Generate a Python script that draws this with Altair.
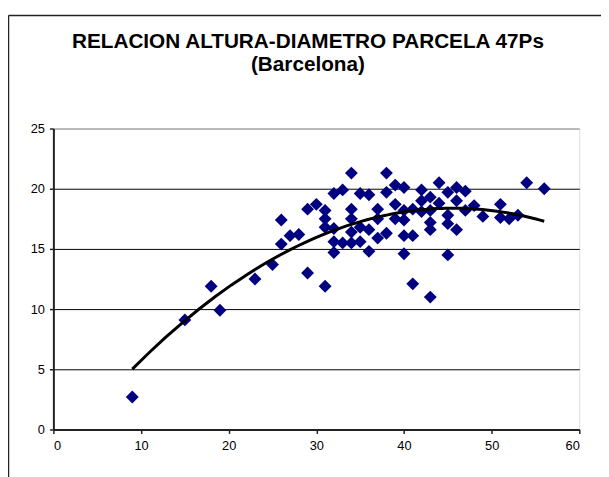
import altair as alt
import pandas as pd

# Diameter (cm) and height (m)
diametro = [9, 15, 18, 19, 23, 25, 26, 26, 27, 28, 29, 29, 30, 31,
            31, 31, 31, 32, 32, 32, 32, 33, 33, 34, 34, 34, 34, 34,
            35, 35, 35, 36, 36, 36, 37, 37, 37, 38, 38, 38, 39, 39,
            39, 40, 40, 40, 40, 40, 41, 41,
            41, 42, 42, 42, 43, 43, 43, 43, 43, 44, 44, 45, 45, 45,
            45, 46, 46, 46, 47, 47, 48, 49, 51, 51, 52, 53, 54, 56]
altura = [2.7, 9.1, 11.9, 9.9, 12.5, 13.7, 15.4, 17.4, 16.1, 16.2, 13.0, 18.3, 18.7, 11.9,
          18.2, 17.5, 16.8, 19.6, 16.7, 15.6, 14.7, 19.9, 15.5, 21.3, 18.3, 17.5, 16.4, 15.5,
          19.6, 16.8, 15.6, 19.5, 16.6, 14.8, 18.3, 17.5, 15.9, 21.3, 19.7, 16.3, 20.3, 18.7,
          17.5, 20.1, 18.2, 17.4, 16.1, 14.6, 16.1, 12.1,
          18.3, 19.9, 19.0, 18.1, 19.3, 18.2, 17.2, 16.6, 11.0, 20.5, 18.8, 19.7, 17.8, 17.1,
          14.5, 20.1, 19.0, 16.6, 19.8, 18.2, 18.6, 17.7, 18.7, 17.6, 17.5, 17.8, 20.5, 20.0]

x_ticks = [0, 10, 20, 30, 40, 50, 60]
y_ticks = [0, 5, 10, 15, 20, 25]

titulo = "RELACION ALTURA-DIAMETRO PARCELA 47Ps"
subtitulo = "(Barcelona)"

df = pd.DataFrame({"D": diametro, "H": altura})

FONT = "Liberation Sans"

xs = alt.Scale(domain=[0, 60], nice=False, zero=False)
ys = alt.Scale(domain=[0, 25], nice=False, zero=False)

base = alt.Chart(df)

points = base.mark_point(shape="diamond", filled=True, size=170, opacity=1,
                         color="#000080").encode(
    x=alt.X("D:Q", scale=xs, axis=alt.Axis(
        values=x_ticks, grid=False, title=None, labelFont=FONT, labelFontSize=13,
        labelColor="black", tickColor="#222", tickSize=4, tickWidth=1.5,
        domainColor="#222", domainWidth=2, labelPadding=6, labelAngle=0)),
    y=alt.Y("H:Q", scale=ys, axis=alt.Axis(
        values=y_ticks, grid=True,
        gridColor=alt.condition("datum.value == 25", alt.value("#808080"), alt.value("black")),
        gridWidth=1, title=None, labelFont=FONT, labelFontSize=13,
        labelColor="black", tickColor="#222", tickSize=4, tickWidth=1.5,
        domainColor="#222", domainWidth=2, labelPadding=5)),
)

trend = base.transform_regression(
    "D", "H", method="poly", order=2, extent=[9, 56]
).mark_line(color="black", strokeWidth=3).encode(
    x=alt.X("D:Q", scale=xs),
    y=alt.Y("H:Q", scale=ys),
)

one = alt.Data(values=[{}])
border_top = alt.Chart(one).mark_rule(color="#222", strokeWidth=1.5).encode(
    x=alt.value(-45.5), x2=alt.value(620), y=alt.value(-114.5))
border_left = alt.Chart(one).mark_rule(color="#222", strokeWidth=1.5).encode(
    x=alt.value(-45.5), y=alt.value(-114.5), y2=alt.value(420))

title1 = alt.Chart(one).mark_text(
    text=titulo, font=FONT, fontSize=21, fontWeight="bold", color="black",
    align="center", baseline="alphabetic").encode(
    x=alt.value(258), y=alt.value(-81.5))
title2 = alt.Chart(one).mark_text(
    text=subtitulo, font=FONT, fontSize=21, fontWeight="bold", color="black",
    align="center", baseline="alphabetic").encode(
    x=alt.value(258), y=alt.value(-58.5))

chart = alt.layer(points, trend, border_top, border_left, title1, title2).properties(
    width=533, height=305,
    autosize=alt.AutoSizeParams(type="none"),
    padding={"left": 46, "top": 119, "right": 22, "bottom": 45},
).configure_view(stroke="#808080", strokeWidth=2).configure(background="white")

chart.save("out.html", embed_options={"renderer": "svg", "actions": False})
